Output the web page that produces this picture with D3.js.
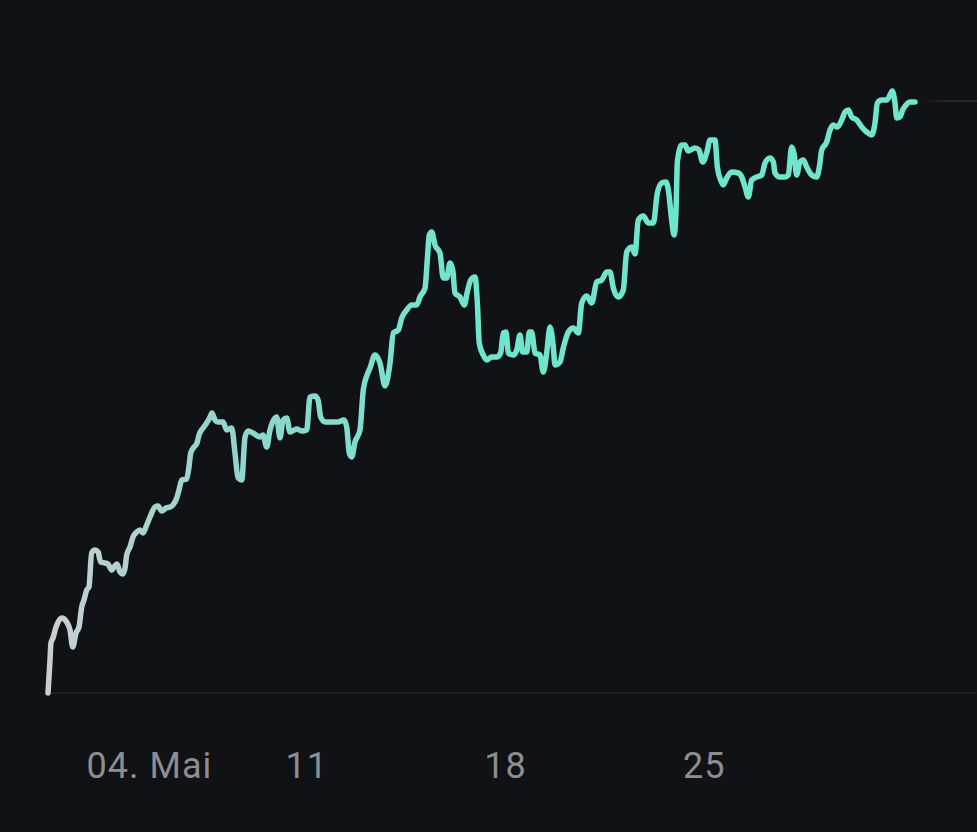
<!DOCTYPE html>
<html>
<head>
<meta charset="utf-8">
<script src="https://cdn.jsdelivr.net/npm/d3@7"></script>
<style>
  html, body { margin: 0; padding: 0; background: #111215; }
  svg { display: block; }
</style>
</head>
<body>
<div id="chart"></div>
<script>
// hours since 2024-05-02 00:00, and value at that hour
const hours = [
  1.0, 2.7, 3.5, 5.2, 7.8, 12.6, 16.8, 19.6, 21.9, 24.7, 27.2, 29.5, 31.4, 33.7, 35.6, 37.9,
  40.7, 43.3, 45.5, 49.2, 51.7, 54.8, 56.8, 59.3, 61.8, 64.1, 66.1, 67.5, 70.3, 72.8, 76.0, 78.7,
  81.3, 84.4, 87.2, 91.4, 94.0, 97.1, 100.7, 104.1, 106.6, 109.8, 111.7, 114.0, 118.2, 120.1, 121.6, 124.4,
  126.9, 128.6, 132.0, 135.1, 137.9, 139.6, 142.1, 144.7, 148.9, 152.0, 156.2, 159.0, 161.6, 164.7, 167.5, 170.3,
  174.2, 180.1, 182.7, 185.8, 188.6, 194.3, 197.0, 199.6, 202.7, 205.5, 211.2, 215.4, 219.6, 222.4, 226.6, 229.2,
  231.4, 235.1, 240.7, 246.1, 251.1, 253.4, 255.6, 257.6, 260.4, 264.6, 267.4, 270.6, 273.1, 277.3, 281.5, 285.8,
  290.0, 292.8, 297.0, 299.9, 304.1, 308.3, 312.6, 315.3, 319.6, 321.5, 323.2, 325.2, 328.0, 332.2, 335.0, 337.9,
  340.7, 343.0, 344.9, 349.1, 352.8, 355.3, 358.2, 361.8, 363.8, 365.4, 368.8, 371.7, 375.9, 380.2, 383.5, 385.7,
  388.0, 390.0, 394.2, 397.1, 399.8, 402.1, 405.5, 407.7, 409.7, 412.5, 416.7, 419.5, 422.4, 425.2, 428.0, 429.4,
  433.6, 436.4, 440.7, 444.9, 449.1, 452.0, 456.2, 460.4, 464.7, 468.9, 473.1, 475.9, 478.7, 482.9, 487.1, 490.0,
  494.2, 497.0, 499.8, 504.0, 508.3, 512.5, 515.9, 519.6, 523.2, 525.2, 528.0, 530.0, 531.7, 532.8, 536.5, 539.3,
  541.8, 547.7, 551.1, 554.2, 557.6, 560.4, 564.6, 566.6, 569.4, 571.6, 574.5, 578.7, 584.3, 587.2, 590.0, 592.8,
  595.6, 599.9, 604.1, 606.9, 611.1, 613.9, 615.3, 619.5, 623.8, 626.6, 629.4, 631.6, 633.6, 636.4, 639.2, 642.1,
  646.3, 650.6, 652.8, 654.8, 659.0, 661.8, 664.6, 668.0, 671.7, 674.5, 677.3, 680.1, 684.4, 688.6, 692.8, 697.0,
  699.8, 701.8, 705.5, 709.7, 712.5, 714.4, 716.7, 718.2, 720.9, 723.2, 726.0, 729.4, 733.6
];

const values = [
  100.0, 103.3, 105.0, 105.5, 106.6, 107.5, 107.1, 106.3, 104.6, 106.0, 106.6, 108.6, 109.3, 110.3, 110.6, 114.0,
  114.3, 114.1, 113.1, 113.0, 112.9, 112.3, 112.6, 112.9, 112.1, 111.9, 112.5, 113.8, 114.6, 115.6, 116.1, 116.3,
  116.0, 116.8, 117.6, 118.6, 118.7, 118.2, 118.5, 118.6, 118.8, 119.5, 120.3, 121.3, 121.4, 122.6, 124.0, 124.6,
  125.0, 125.8, 126.5, 127.0, 127.6, 128.0, 127.3, 127.1, 127.1, 126.3, 126.5, 124.0, 121.5, 121.3, 125.6, 126.2,
  126.0, 125.6, 125.8, 124.6, 126.3, 127.6, 125.5, 127.3, 127.5, 126.1, 126.4, 126.2, 126.3, 129.6, 129.7, 129.3,
  127.6, 127.1, 127.1, 127.1, 127.3, 126.6, 124.0, 123.6, 125.1, 126.3, 130.3, 131.8, 132.5, 133.8, 133.0, 130.7,
  133.0, 136.0, 136.3, 137.5, 138.3, 138.8, 138.8, 139.6, 140.5, 143.3, 145.8, 146.1, 144.8, 144.0, 141.5, 141.5,
  143.0, 142.3, 140.0, 139.6, 138.8, 140.1, 141.3, 141.6, 139.0, 135.0, 133.8, 133.3, 133.6, 133.6, 134.0, 136.0,
  136.1, 134.0, 133.8, 134.3, 135.8, 134.1, 134.1, 136.1, 136.1, 134.0, 133.8, 132.1, 134.0, 136.6, 134.6, 132.8,
  133.1, 134.5, 136.1, 136.5, 136.0, 139.0, 139.7, 139.0, 141.1, 141.3, 142.1, 142.1, 140.5, 139.6, 140.3, 144.1,
  144.6, 143.9, 147.3, 147.7, 147.0, 147.0, 150.0, 151.0, 151.1, 150.3, 147.3, 145.8, 148.3, 153.1, 154.8, 154.8,
  154.2, 154.5, 154.3, 153.1, 154.0, 155.3, 155.3, 152.6, 151.3, 150.8, 151.5, 152.1, 152.0, 151.6, 150.6, 149.6,
  151.3, 151.6, 151.8, 153.0, 153.5, 153.1, 152.0, 151.6, 151.6, 151.8, 154.6, 153.8, 151.8, 153.1, 153.3, 152.6,
  151.8, 151.6, 152.6, 154.3, 155.1, 156.3, 156.8, 156.6, 157.3, 158.1, 158.3, 157.6, 157.3, 156.6, 156.1, 155.8,
  157.0, 159.0, 159.3, 159.3, 159.8, 160.2, 159.0, 157.5, 157.6, 158.3, 158.8, 159.1, 159.1
];

const tickDates = ['2024-05-04', '2024-05-11', '2024-05-18', '2024-05-25'];
const tickLabels = ['04. Mai', '11', '18', '25'];

const width = 977;
const height = 832;
const start = new Date(2024, 4, 2, 0, 0);

const data = hours.map((h, i) => ({
  date: new Date(start.getTime() + h * 3600e3),
  value: values[i]
}));

const xScale = d3.scaleTime()
  .domain([new Date(2024, 4, 2, 1, 0), new Date(2024, 5, 3, 18, 0)])
  .range([48, 977]);

const yScale = d3.scaleLinear()
  .domain([100, 160])
  .range([693, 93]);

const svg = d3.select('#chart')
  .append('svg')
  .attr('width', width)
  .attr('height', height);

svg.append('rect')
  .attr('width', width)
  .attr('height', height)
  .attr('fill', '#111215');

const defs = svg.append('defs');

const grad = defs.append('linearGradient')
  .attr('id', 'line-grad')
  .attr('gradientUnits', 'userSpaceOnUse')
  .attr('x1', xScale(data[0].date)).attr('x2', 470)
  .attr('y1', 0).attr('y2', 0);
grad.append('stop').attr('offset', '0%').attr('stop-color', '#c8cfd0');
grad.append('stop').attr('offset', '45%').attr('stop-color', '#8fd6cc');
grad.append('stop').attr('offset', '100%').attr('stop-color', '#6fe6cc');

const last = data[data.length - 1];

const fade = defs.append('linearGradient')
  .attr('id', 'fade-grad')
  .attr('gradientUnits', 'userSpaceOnUse')
  .attr('x1', xScale(last.date) + 6).attr('x2', 977)
  .attr('y1', 0).attr('y2', 0);
fade.append('stop').attr('offset', '0%').attr('stop-color', '#26292c').attr('stop-opacity', 0);
fade.append('stop').attr('offset', '50%').attr('stop-color', '#26292c').attr('stop-opacity', 1);

// baseline
svg.append('line')
  .attr('x1', xScale.range()[0])
  .attr('x2', xScale.range()[1])
  .attr('y1', yScale(100))
  .attr('y2', yScale(100))
  .attr('stroke', '#222428')
  .attr('stroke-width', 1.5);

// faint level line after the last point
svg.append('line')
  .attr('x1', xScale(last.date) + 6)
  .attr('x2', xScale.range()[1])
  .attr('y1', yScale(last.value) - 1)
  .attr('y2', yScale(last.value) - 1)
  .attr('stroke', 'url(#fade-grad)')
  .attr('stroke-width', 2);

const line = d3.line()
  .x(d => xScale(d.date))
  .y(d => yScale(d.value))
  .curve(d3.curveMonotoneX);

svg.append('path')
  .datum(data)
  .attr('d', line)
  .attr('fill', 'none')
  .attr('stroke', 'url(#line-grad)')
  .attr('stroke-width', 5.5)
  .attr('stroke-linejoin', 'round')
  .attr('stroke-linecap', 'round');

// x labels, left aligned a bit before the tick
svg.append('g')
  .selectAll('text')
  .data(tickDates)
  .join('text')
  .attr('x', d => xScale(d3.timeParse('%Y-%m-%d')(d)) - 17)
  .attr('y', 778)
  .attr('fill', '#8d8e92')
  .attr('font-family', 'Roboto, sans-serif')
  .attr('font-size', 36)
  .attr('letter-spacing', 1)
  .attr('text-anchor', 'start')
  .text((d, i) => tickLabels[i]);
</script>
</body>
</html>
